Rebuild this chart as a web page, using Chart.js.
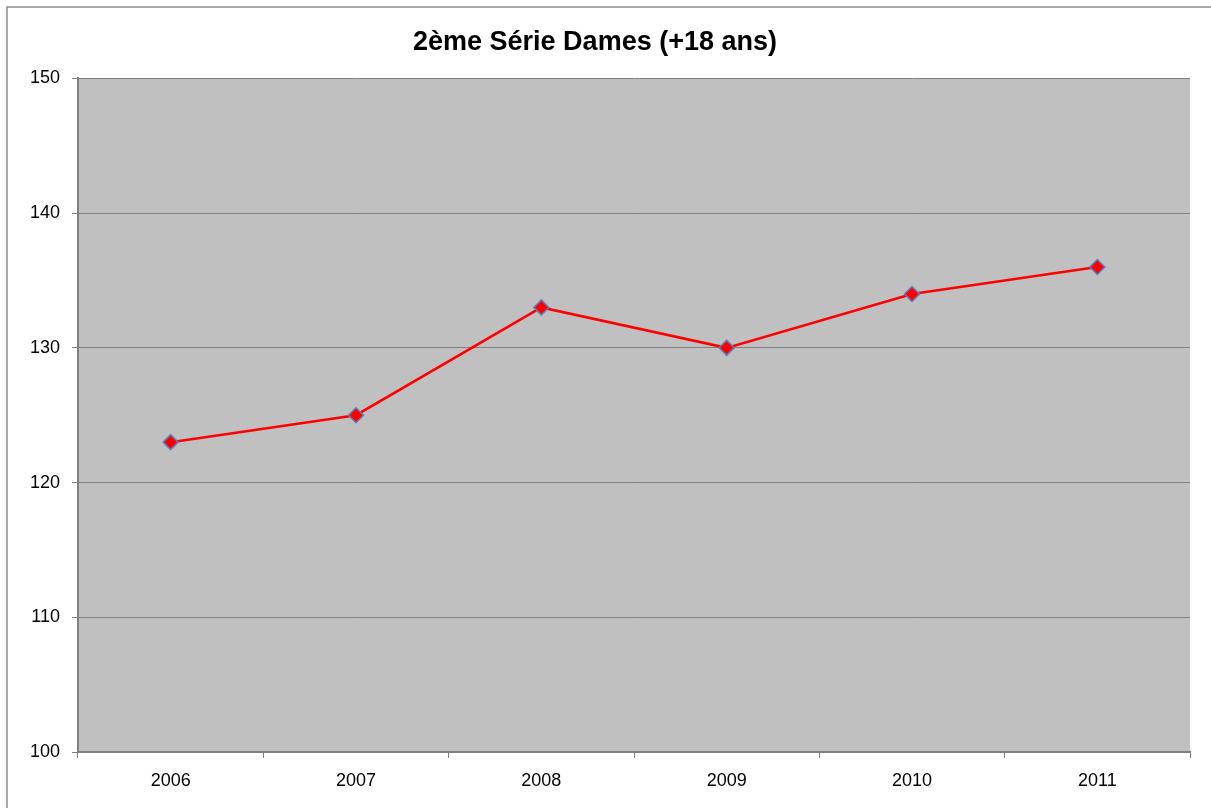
<!DOCTYPE html>
<html>
<head>
<meta charset="utf-8">
<script src="https://cdn.jsdelivr.net/npm/chart.js@4/dist/chart.umd.min.js"></script>
<style>
  html, body { margin: 0; padding: 0; background: #fff; }
  #wrap { width: 1211px; height: 808px; }
</style>
</head>
<body>
<div id="wrap"><canvas id="serieChart" width="1211" height="808"></canvas></div>
<script>
// Données
const annees = ["2006", "2007", "2008", "2009", "2010", "2011"];
const valeurs = [123, 125, 133, 130, 134, 136];
const titre = "2ème Série Dames (+18 ans)";

// fond gris de la zone de tracé + cadre extérieur
const fondPlugin = {
    id: 'fond',
    beforeDraw(chart) {
        const { ctx, chartArea } = chart;
        ctx.save();
        ctx.fillStyle = '#C0C0C0';
        ctx.fillRect(chartArea.left, chartArea.top, chartArea.right - chartArea.left, chartArea.bottom - chartArea.top);
        ctx.strokeStyle = '#8c8c8c';
        ctx.lineWidth = 1.5;
        ctx.strokeRect(7, 7, 1230, 830);
        ctx.restore();
    }
};

const police = 'Liberation Sans, Arial, sans-serif';

const ctx = document.getElementById('serieChart').getContext('2d');
const serieChart = new Chart(ctx, {
    type: 'line',
    data: {
        labels: annees,
        datasets: [{
            label: 'Série',
            data: valeurs,
            borderColor: '#FF0000',
            borderWidth: 2.5,
            backgroundColor: '#FF0000',
            pointStyle: 'rectRot',
            pointRadius: 7.5,
            pointBackgroundColor: '#FF0000',
            pointBorderColor: '#5A7FBE',
            pointBorderWidth: 1.5,
            tension: 0
        }]
    },
    options: {
        responsive: false,
        animation: false,
        layout: { padding: { left: 0, right: 21, top: 0, bottom: 0 } },
        plugins: {
            legend: { display: false },
            tooltip: { enabled: false },
            title: {
                display: true,
                text: titre,
                color: '#000',
                font: { family: police, size: 27, weight: 'bold' },
                padding: { top: 26, bottom: 20 }
            }
        },
        scales: {
            x: {
                offset: true,
                grid: { offset: true, drawOnChartArea: false, tickLength: 6, color: '#808080', lineWidth: 1 },
                border: { color: '#808080', width: 2 },
                ticks: { color: '#000', padding: 12, font: { family: police, size: 18 } },
                afterFit(scale) { scale.height = 56; }
            },
            y: {
                min: 100,
                max: 150,
                ticks: { stepSize: 10, color: '#000', padding: 12, font: { family: police, size: 18 } },
                grid: { color: '#808080', lineWidth: 1, tickLength: 6 },
                border: { color: '#808080', width: 2 },
                afterFit(scale) { scale.width = 78; }
            }
        }
    },
    plugins: [fondPlugin]
});
</script>
</body>
</html>
